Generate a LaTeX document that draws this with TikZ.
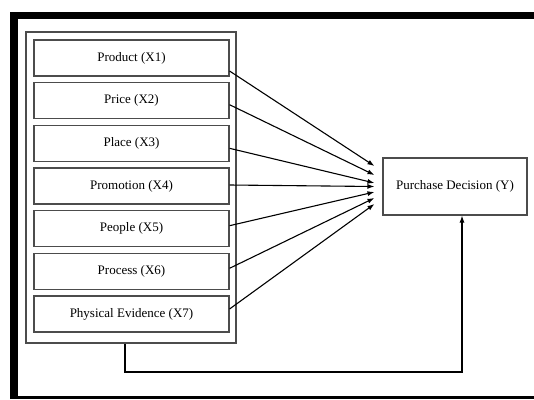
\documentclass[tikz,border=0pt]{standalone}
\usepackage{fontspec}
\setmainfont{Liberation Serif}
\usepackage{tikz}
\usetikzlibrary{arrows.meta}
\usetikzlibrary{positioning}
\usetikzlibrary{calc}
\tikzstyle{factor}=[draw=black!70,line width=1.1pt,minimum width=195pt,minimum height=36pt,inner sep=1pt,font=\fontsize{13}{15}\selectfont]
\tikzstyle{decision}=[draw=black!70,line width=1.1pt,minimum width=144pt,minimum height=57pt,inner sep=1pt,font=\fontsize{13}{15}\selectfont]
\tikzstyle{link}=[line width=1.1pt,-{Latex[length=7pt,width=5pt]}]

\begin{document}
\begin{tikzpicture}[x=1pt,y=-1pt]
\useasboundingbox (0,0) rectangle (534,399);
% black frame of the figure
\fill (10,12) rectangle (534,19);
\fill (10,12) rectangle (18,399);
\fill (10,396) rectangle (534,399);
% group of the 7P variables
\node [draw=black!70,line width=1.1pt,minimum width=210pt,minimum height=311pt,inner sep=0pt] (grp) at (131,187.5) {};
\node [factor] (p1) at (131.5,58) {Product (X1)};
\node [factor] (p2) at (131.5,100.7) {Price (X2)};
\node [factor] (p3) at (131.5,143.3) {Place (X3)};
\node [factor] (p4) at (131.5,186) {Promotion (X4)};
\node [factor] (p5) at (131.5,228.7) {People (X5)};
\node [factor] (p6) at (131.5,271.3) {Process (X6)};
\node [factor] (p7) at (131.5,314) {Physical Evidence (X7)};
\node [decision] (y) at (455,186.5) {Purchase Decision (Y)};

\coordinate (t1) at ([xshift=-8pt,yshift=20.5pt]y.west);
\coordinate (t2) at ([xshift=-8pt,yshift=11.5pt]y.west);
\coordinate (t3) at ([xshift=-8pt,yshift=3.5pt]y.west);
\coordinate (t4) at ([xshift=-8pt]y.west);
\coordinate (t5) at ([xshift=-8pt,yshift=-5.5pt]y.west);
\coordinate (t6) at ([xshift=-8pt,yshift=-11.5pt]y.west);
\coordinate (t7) at ([xshift=-8pt,yshift=-17.5pt]y.west);

\draw [link] ([yshift=-13pt]p1.east) -- (t1);
\draw [link] ([yshift=-4pt]p2.east) -- (t2);
\draw [link] ([yshift=-5pt]p3.east) -- (t3);
\draw [link] ([yshift=1pt]p4.east) -- (t4);
\draw [link] ([yshift=3pt]p5.east) -- (t5);
\draw [link] ([yshift=3pt]p6.east) -- (t6);
\draw [link] ([yshift=5pt]p7.east) -- (t7);

% simultaneous effect
\coordinate (lo) at (125,372);
\draw [link] (grp.south -| lo) -- (lo) -| ([xshift=7pt]y.south);
\end{tikzpicture}
\end{document}
